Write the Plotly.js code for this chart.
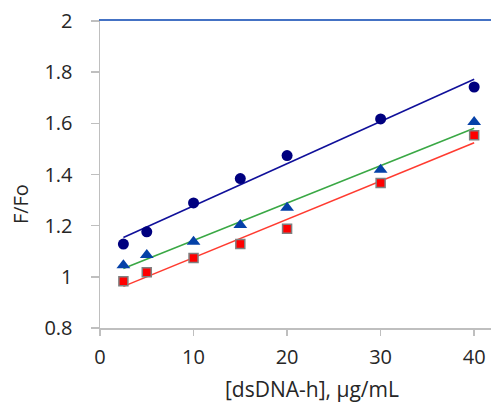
<!DOCTYPE html>
<html>
<head>
<meta charset="utf-8">
<script src="https://cdn.plot.ly/plotly-3.0.1.min.js"></script>
<style>html,body{margin:0;padding:0;background:#fff;}#chart{width:491px;height:406px;}</style>
</head>
<body>
<div id="chart"></div>
<script>
// Data
const conc = [2.5, 5, 10, 15, 20, 30, 40];
const seriesCircle = [1.128, 1.176, 1.289, 1.384, 1.474, 1.617, 1.742];
const seriesTriangle = [1.045, 1.085, 1.137, 1.203, 1.270, 1.419, 1.605];
const seriesSquare = [0.983, 1.018, 1.074, 1.128, 1.188, 1.367, 1.553];
const xRange = [0, 41.8];
const yRange = [0.8, 2];
const xTicks = [0, 10, 20, 30, 40];
const yTicks = [0.8, 1, 1.2, 1.4, 1.6, 1.8, 2];
const yTickText = ['0.8', '1', '1.2', '1.4', '1.6', '1.8', '2'];
const xTitle = '[dsDNA-h], μg/mL';
const yTitle = 'F/Fo';

function linFit(xs, ys) {
  const n = xs.length;
  const mx = xs.reduce((a, b) => a + b, 0) / n;
  const my = ys.reduce((a, b) => a + b, 0) / n;
  let sxy = 0, sxx = 0;
  for (let i = 0; i < n; i++) { sxy += (xs[i] - mx) * (ys[i] - my); sxx += (xs[i] - mx) ** 2; }
  const b = sxy / sxx, a = my - b * mx;
  const x0 = Math.min(...xs), x1 = Math.max(...xs);
  return { x: [x0, x1], y: [a + b * x0, a + b * x1] };
}

const fC = linFit(conc, seriesCircle);
const fT = linFit(conc, seriesTriangle);
const fS = linFit(conc, seriesSquare);

const traces = [
  { x: fC.x, y: fC.y, mode: 'lines', line: { color: '#10109a', width: 1.6 }, hoverinfo: 'skip' },
  { x: fT.x, y: fT.y, mode: 'lines', line: { color: '#3aa845', width: 1.6 }, hoverinfo: 'skip' },
  { x: fS.x, y: fS.y, mode: 'lines', line: { color: '#ff3b30', width: 1.6 }, hoverinfo: 'skip' },
  { x: conc, y: seriesCircle, mode: 'markers', marker: { symbol: 'circle', size: 11, color: '#00007f' } },
  { x: conc, y: seriesTriangle, mode: 'markers', marker: { symbol: 'triangle-up', size: 12, color: '#0541a8' } },
  { x: conc, y: seriesSquare, mode: 'markers', marker: { symbol: 'square', size: 9, color: '#ff0000', line: { color: '#808080', width: 1.5 } } },
  // invisible trace to activate top axis (blue line at y = 2)
  { x: xRange, y: yRange, xaxis: 'x2', mode: 'none', hoverinfo: 'skip' }
];

const axisFont = { family: '"Open Sans", Lato, sans-serif', size: 20, color: '#262626' };
const titleFont = { family: '"Open Sans", Lato, sans-serif', size: 21, color: '#262626' };

const layout = {
  width: 491, height: 406,
  margin: { l: 100, r: 0, t: 21, b: 78 },
  paper_bgcolor: '#fff', plot_bgcolor: '#fff',
  showlegend: false,
  font: axisFont,
  xaxis: {
    range: xRange, tickmode: 'array', tickvals: xTicks,
    showgrid: false, zeroline: false, showline: true, linecolor: '#bfbfbf', linewidth: 1.5,
    ticks: 'outside', ticklen: 6, tickcolor: '#bfbfbf', tickwidth: 1.5,
    tickfont: axisFont, ticklabelstandoff: 4
  },
  xaxis2: {
    range: xRange, overlaying: 'x', side: 'top', anchor: 'y',
    showgrid: false, zeroline: false, showline: true, linecolor: '#4472c4', linewidth: 2,
    ticks: '', showticklabels: false
  },
  yaxis: {
    range: yRange, tickmode: 'array', tickvals: yTicks, ticktext: yTickText,
    showgrid: false, zeroline: false, showline: true, linecolor: '#bfbfbf', linewidth: 1.5,
    ticks: 'outside', ticklen: 8, tickcolor: '#bfbfbf', tickwidth: 1.5,
    tickfont: axisFont, ticklabelstandoff: 14
  },
  annotations: [
    { text: xTitle, xref: 'paper', yref: 'paper', x: 0.541, y: -0.198, xanchor: 'center', yanchor: 'middle', showarrow: false, font: titleFont },
    { text: yTitle, xref: 'paper', yref: 'paper', x: -0.205, y: 0.403, xanchor: 'center', yanchor: 'middle', textangle: -90, showarrow: false, font: axisFont }
  ]
};

Plotly.newPlot('chart', traces, layout, { staticPlot: true, displayModeBar: false });
</script>
</body>
</html>
